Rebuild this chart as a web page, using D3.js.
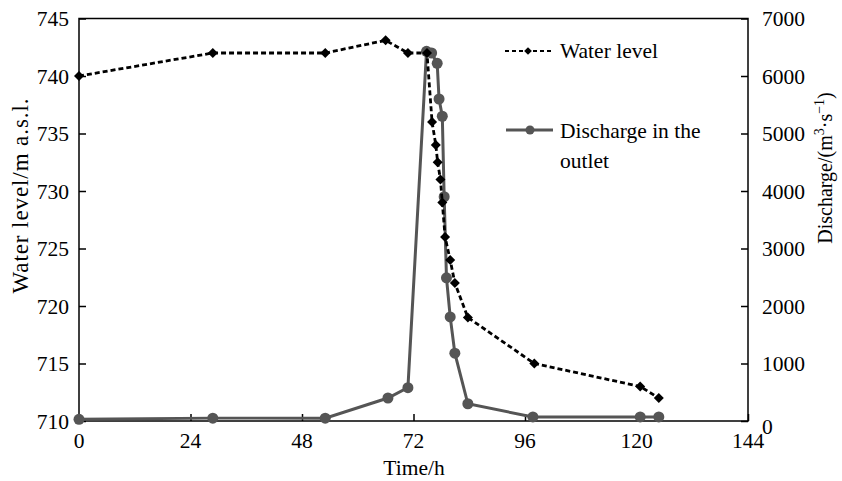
<!DOCTYPE html>
<html>
<head>
<meta charset="utf-8">
<script src="https://cdn.jsdelivr.net/npm/d3@7"></script>
<style>
body { margin: 0; background: #fff; }
text { font-family: "Liberation Serif", "Times New Roman", serif; }
</style>
</head>
<body>
<div id="chart"></div>
<script>
// water level (m a.s.l.)
var levelTime = [0, 28.8, 53, 66, 70.8, 74.9, 76, 76.8, 77.2, 77.8, 78.2, 78.8, 79.9, 80.9, 83.7, 98, 120.8, 124.8];
var levelValue = [740, 742, 742, 743.1, 742, 742, 736, 734, 732.5, 731, 729, 726, 724, 722, 719, 715, 713, 712];

// discharge in the outlet (m3/s)
var flowTime = [0, 28.8, 53, 66.5, 70.8, 74.8, 75.9, 77.1, 77.5, 78.2, 78.6, 79.1, 79.9, 80.9, 83.7, 97.7, 120.8, 124.8];
var flowValue = [30, 50, 50, 400, 580, 6430, 6400, 6220, 5600, 5300, 3900, 2490, 1810, 1180, 300, 70, 70, 70];

var xTicks = [0, 24, 48, 72, 96, 120, 144];
var levelTicks = [710, 715, 720, 725, 730, 735, 740, 745];
var flowTicks = [0, 1000, 2000, 3000, 4000, 5000, 6000, 7000];

var width = 842, height = 481;
var margin = {left: 79, right: 94, top: 18.5, bottom: 60};

var svg = d3.select("#chart").append("svg")
    .attr("width", width)
    .attr("height", height);

var x = d3.scaleLinear().domain([0, 144]).range([margin.left, width - margin.right]);
var yL = d3.scaleLinear().domain([710, 745]).range([height - margin.bottom, margin.top]);
var yR = d3.scaleLinear().domain([0, 7000]).range([height - margin.bottom, margin.top]);

var fontSize = 21.5;

// frame
svg.append("rect")
    .attr("x", x(0))
    .attr("y", yL(745))
    .attr("width", x(144) - x(0))
    .attr("height", yL(710) - yL(745))
    .attr("fill", "none")
    .attr("stroke", "#000")
    .attr("stroke-width", 1.5);

// axes (ticks inward)
svg.append("g")
    .attr("transform", "translate(0," + yL(710) + ")")
    .call(d3.axisTop(x).tickValues(xTicks).tickSize(7).tickFormat(""));
svg.append("g").selectAll("text")
    .data(xTicks)
    .enter()
    .append("text")
    .attr("x", d => x(d))
    .attr("y", yL(710) + 27)
    .attr("text-anchor", "middle")
    .attr("font-size", fontSize)
    .text(d => d);

svg.append("g")
    .attr("transform", "translate(" + x(0) + ",0)")
    .call(d3.axisRight(yL).tickValues(levelTicks).tickSize(7).tickFormat(""));
svg.append("g").selectAll("text")
    .data(levelTicks)
    .enter()
    .append("text")
    .attr("x", x(0) - 10)
    .attr("y", d => yL(d) + 7.5)
    .attr("text-anchor", "end")
    .attr("font-size", fontSize)
    .text(d => d);

svg.append("g")
    .attr("transform", "translate(" + x(144) + ",0)")
    .call(d3.axisLeft(yR).tickValues(flowTicks).tickSize(7).tickFormat(""));
svg.append("g").selectAll("text")
    .data(flowTicks)
    .enter()
    .append("text")
    .attr("x", x(144) + 14)
    .attr("y", d => yR(d) + (d === 0 ? 13 : 7.5))
    .attr("text-anchor", "start")
    .attr("font-size", fontSize)
    .text(d => d);

svg.selectAll(".domain").attr("stroke", "none");
svg.selectAll(".tick line").attr("stroke", "#000").attr("stroke-width", 1.5);

// axis titles
svg.append("text")
    .attr("x", 414)
    .attr("y", 475)
    .attr("text-anchor", "middle")
    .attr("font-size", fontSize)
    .text("Time/h");

svg.append("text")
    .attr("transform", "translate(28,196) rotate(-90)")
    .attr("text-anchor", "middle")
    .attr("font-size", 23)
    .attr("textLength", 195)
    .attr("lengthAdjust", "spacing")
    .text("Water level/m a.s.l.");

var rLabel = svg.append("text")
    .attr("transform", "translate(832,168) rotate(-90)")
    .attr("text-anchor", "middle")
    .attr("font-size", 20);
rLabel.append("tspan").text("Discharge/(m");
rLabel.append("tspan").attr("dy", -8).attr("font-size", 14).text("3");
rLabel.append("tspan").attr("dy", 8).text("\u00b7s");
rLabel.append("tspan").attr("dy", -8).attr("font-size", 14).text("\u22121");
rLabel.append("tspan").attr("dy", 8).text(")");

// discharge series
var flowData = flowTime.map((t, i) => ({t: t, v: flowValue[i]}));
var levelData = levelTime.map((t, i) => ({t: t, v: levelValue[i]}));

var gray = "#555555";

svg.append("path")
    .datum(flowData)
    .attr("fill", "none")
    .attr("stroke", gray)
    .attr("stroke-width", 3)
    .attr("d", d3.line().x(d => x(d.t)).y(d => yR(d.v)));

svg.append("g").selectAll("circle")
    .data(flowData)
    .enter()
    .append("circle")
    .attr("cx", d => x(d.t))
    .attr("cy", d => yR(d.v))
    .attr("r", 5.5)
    .attr("fill", gray);

// water level series
svg.append("path")
    .datum(levelData)
    .attr("fill", "none")
    .attr("stroke", "#000")
    .attr("stroke-width", 2.8)
    .attr("stroke-dasharray", "5,3")
    .attr("d", d3.line().x(d => x(d.t)).y(d => yL(d.v)));

// rotated square marker
var diamond = d3.symbol().type(d3.symbolSquare).size(50);
svg.append("g").selectAll("path")
    .data(levelData)
    .enter()
    .append("path")
    .attr("transform", d => "translate(" + x(d.t) + "," + yL(d.v) + ") rotate(45)")
    .attr("d", diamond)
    .attr("fill", "#000");

// legend
var leg = svg.append("g");
leg.append("line")
    .attr("x1", 505).attr("x2", 551)
    .attr("y1", 51).attr("y2", 51)
    .attr("stroke", "#000")
    .attr("stroke-width", 2)
    .attr("stroke-dasharray", "4,3");
leg.append("path")
    .attr("transform", "translate(528,51) rotate(45)")
    .attr("d", d3.symbol().type(d3.symbolSquare).size(30))
    .attr("fill", "#000");
leg.append("text")
    .attr("x", 560).attr("y", 58)
    .attr("font-size", fontSize)
    .text("Water level");

leg.append("line")
    .attr("x1", 506).attr("x2", 553)
    .attr("y1", 130).attr("y2", 130)
    .attr("stroke", gray)
    .attr("stroke-width", 3);
leg.append("circle")
    .attr("cx", 530).attr("cy", 130)
    .attr("r", 4.5)
    .attr("fill", gray);
leg.append("text")
    .attr("x", 560).attr("y", 138)
    .attr("font-size", fontSize)
    .text("Discharge in the");
leg.append("text")
    .attr("x", 560).attr("y", 168)
    .attr("font-size", fontSize)
    .text("outlet");
</script>
</body>
</html>
